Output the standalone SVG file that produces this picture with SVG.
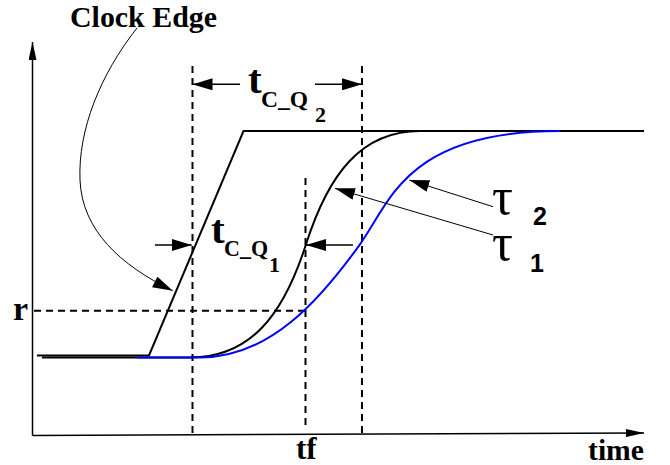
<svg xmlns="http://www.w3.org/2000/svg" width="670" height="465" viewBox="0 0 670 465">
<defs>
<style>
.tb{font-family:"Liberation Serif","Times New Roman",serif;font-weight:bold;fill:#000}
.sb{font-family:"Liberation Sans",Arial,sans-serif;font-weight:bold;fill:#000}
.tau{font-family:"Liberation Serif","DejaVu Serif",serif;fill:#000}
.dash{fill:none;stroke:#000;stroke-width:2;stroke-dasharray:7 5}
.ln{fill:none;stroke:#000}
</style>
<marker id="ah" viewBox="0 0 20 12" refX="20" refY="6" markerWidth="20" markerHeight="12" markerUnits="userSpaceOnUse" orient="auto">
<path d="M0,0 L20,6 L0,12 z" fill="#000"/>
</marker>
<marker id="ax" viewBox="0 0 18 8" refX="18" refY="4" markerWidth="18" markerHeight="8" markerUnits="userSpaceOnUse" orient="auto">
<path d="M0,0 L18,4 L0,8 z" fill="#000"/>
</marker>
</defs>
<rect width="670" height="465" fill="#fff"/>
<g id="axes">
<line class="ln" x1="32.5" y1="435.5" x2="32.5" y2="42" stroke-width="1.5" marker-end="url(#ax)"/>
<line class="ln" x1="32.5" y1="435.5" x2="644" y2="433" stroke-width="1.5" marker-end="url(#ax)"/>
</g>
<g id="guides">
<line class="dash" x1="192.5" y1="66" x2="192.5" y2="435"/>
<line class="dash" x1="362" y1="66" x2="362" y2="435"/>
<line class="dash" x1="305.5" y1="178" x2="305.5" y2="427"/>
<line class="dash" x1="34" y1="310.7" x2="305" y2="310.7"/>
</g>
<g id="curves">
<path class="ln" stroke-width="2" d="M37,355.5 L149,355.5 L243.5,131 L644,131"/>
<path class="ln" stroke-width="2" d="M42,357.5 H190 C250,357.5 283,316 306,244.3 C329,172.6 362,131 420,131"/>
<path fill="none" stroke="#0000ff" stroke-width="2" d="M137,357.5 H200 C270,357.5 320,300 360,244.3 C390,203 405,131 560,131"/>
</g>
<g id="connectors">
<path class="ln" stroke-width="1" d="M137,28 C100,75 78,130 80,180 C82,230 120,265 172.7,290.7" marker-end="url(#ah)"/>
<line class="ln" stroke-width="1.5" x1="240" y1="84.3" x2="192.5" y2="84.3" marker-end="url(#ah)"/>
<line class="ln" stroke-width="1.5" x1="315" y1="84.3" x2="362" y2="84.3" marker-end="url(#ah)"/>
<line class="ln" stroke-width="1.5" x1="155" y1="245" x2="191.7" y2="245" marker-end="url(#ah)"/>
<line class="ln" stroke-width="1.5" x1="353" y1="245" x2="306" y2="245" marker-end="url(#ah)"/>
<line class="ln" stroke-width="1" x1="493" y1="206.7" x2="409.3" y2="180" marker-end="url(#ah)"/>
<line class="ln" stroke-width="1" x1="493" y1="235" x2="335" y2="188.3" marker-end="url(#ah)"/>
</g>
<g id="labels">
<text class="tb" x="70" y="27" font-size="30" textLength="147" lengthAdjust="spacingAndGlyphs">Clock Edge</text>
<text class="tb" x="13" y="320" font-size="34">r</text>
<text class="tb" x="296" y="459" font-size="31">tf</text>
<text class="tb" x="588" y="459.5" font-size="30" textLength="56" lengthAdjust="spacingAndGlyphs">time</text>
<g id="tcq2">
<text class="tb" x="248" y="93" font-size="41">t</text>
<text class="tb" x="261" y="107" font-size="24" textLength="47" lengthAdjust="spacingAndGlyphs">C_Q</text>
<text class="tb" x="315" y="121.7" font-size="22">2</text>
</g>
<g id="tcq1">
<text class="tb" x="211" y="243.3" font-size="41">t</text>
<text class="tb" x="224" y="256" font-size="24" textLength="44" lengthAdjust="spacingAndGlyphs">C_Q</text>
<text class="tb" x="269" y="271.7" font-size="22">1</text>
</g>
<g id="tau2">
<text class="tau" x="492" y="214" font-size="52">τ</text>
<text class="sb" x="533" y="225" font-size="25">2</text>
</g>
<g id="tau1">
<text class="tau" x="492" y="260" font-size="52">τ</text>
<text class="sb" x="530" y="272" font-size="25">1</text>
</g>
</g>
</svg>
